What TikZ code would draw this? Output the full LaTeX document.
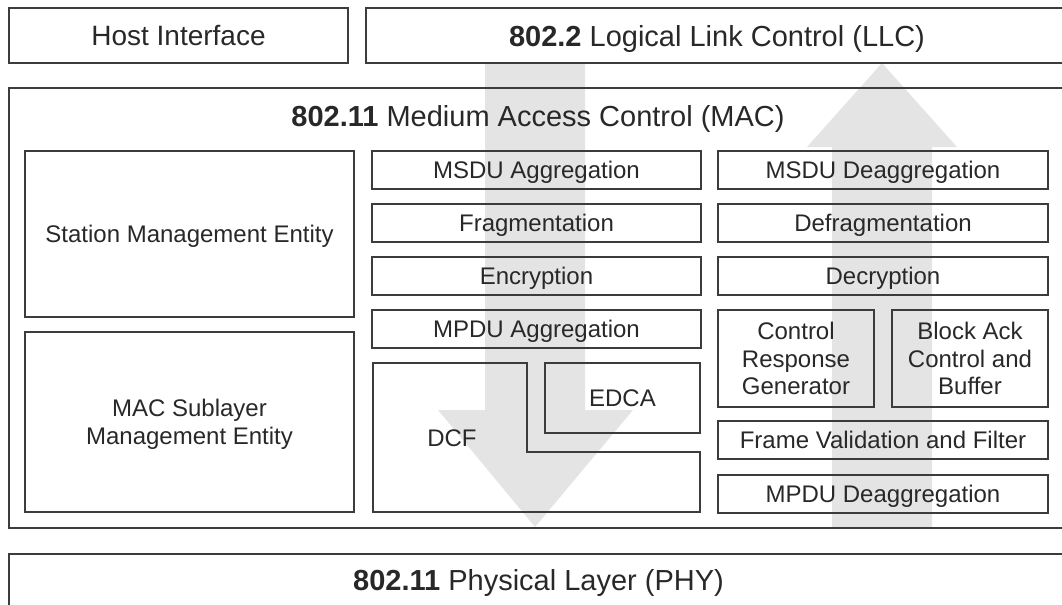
\documentclass[tikz,border=0pt]{standalone}
\usepackage{fontspec}
\setmainfont{Liberation Sans}
\definecolor{flow}{RGB}{228,228,228}
\definecolor{frame}{RGB}{60,60,60}
\definecolor{ink}{RGB}{40,40,40}

\begin{document}
\begin{tikzpicture}
			[x=0.5pt,y=-0.5pt,every node/.style={text=ink,font=\fontsize{12}{13.75}\selectfont,align=center,inner sep=0pt,text depth=0pt},
			blk/.style 2 args={draw=frame,line width=1pt,minimum width=#1,minimum height=#2},
			head/.style={font=\fontsize{14.5}{17}\selectfont}]
			\useasboundingbox (0,0) rectangle (1062,605);
			\clip (0,0) rectangle (1062,605);
			
			\fill[flow] (485,63) -- (585,63) -- (585,410) -- (633,410) -- (535,527) -- (438,410) -- (485,410) -- cycle;
			\fill[flow] (832,528) -- (932,528) -- (932,147) -- (957,147) -- (882,63) -- (807,147) -- (832,147) -- cycle;
			
			\node[blk={169.5pt}{27.5pt},font=\fontsize{14}{17}\selectfont] (host) at (178.5,35.5) {Host Interface};
			\node[blk={351pt}{27.5pt},head] (llc) at (717,35.5) {\textbf{802.2} Logical Link Control (LLC)};
			\node[blk={529.5pt}{220pt}] (mac) at (538.5,308) {};
			\node[head] (mactitle) at (538,116) {\textbf{802.11} Medium Access Control (MAC)};
			\node[blk={529.5pt}{26pt},head] (phy) at (538.5,580) {\textbf{802.11} Physical Layer (PHY)};
			
			\node[blk={164.5pt}{83pt}] (sme) at (189.5,234) {Station Management Entity};
			\node[blk={164.5pt}{90pt}] (mlme) at (189.5,422) {MAC Sublayer\\Management Entity};
			
			\node[blk={164.5pt}{19pt}] (msduagg) at (536.5,170) {MSDU Aggregation};
			\node[blk={164.5pt}{19pt}] (frag) at (536.5,223) {Fragmentation};
			\node[blk={164.5pt}{19pt}] (encr) at (536.5,276) {Encryption};
			\node[blk={164.5pt}{19pt}] (mpduagg) at (536.5,329) {MPDU Aggregation};
			\draw[frame,line width=1pt] (373,363) -- (527,363) -- (527,452) -- (700,452) -- (700,512) -- (373,512) -- cycle;
			\node (dcf) at (452,438) {DCF};
			\node[blk={77.5pt}{35pt}] (edca) at (622.5,398) {EDCA};
			
			\node[blk={165pt}{19pt}] (msdudeagg) at (883,170) {MSDU Deaggregation};
			\node[blk={165pt}{19pt}] (defrag) at (883,223) {Defragmentation};
			\node[blk={165pt}{19pt}] (decr) at (883,276) {Decryption};
			\node[blk={78pt}{48.5pt}] (crg) at (796,358.5) {Control\\Response\\Generator};
			\node[blk={78pt}{48.5pt}] (bac) at (970,358.5) {Block Ack\\Control and\\Buffer};
			\node[blk={165pt}{19pt}] (fvf) at (883,440) {Frame Validation and Filter};
			\node[blk={165pt}{19pt}] (mpdudeagg) at (883,494) {MPDU Deaggregation};
			
\end{tikzpicture}
\end{document}
